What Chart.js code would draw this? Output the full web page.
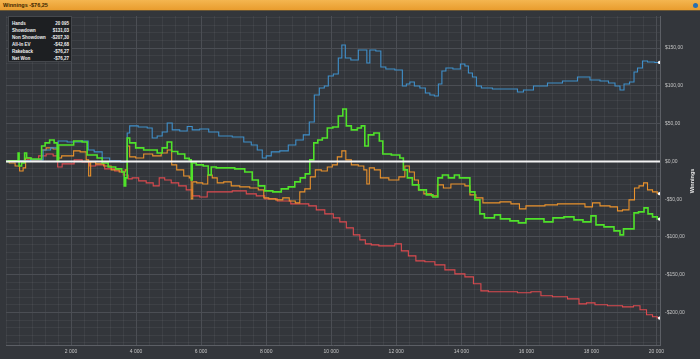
<!DOCTYPE html>
<html>
<head>
<meta charset="utf-8">
<script src="https://cdn.jsdelivr.net/npm/chart.js@4.4.1/dist/chart.umd.min.js"></script>
<style>
html,body{margin:0;padding:0;background:#33363b;overflow:hidden;}
#wrap{position:relative;width:700px;height:359px;background:#33363b;}
#cv{position:absolute;left:0;top:0;}
#titlebar{position:absolute;left:0;top:0;width:700px;height:11px;background:linear-gradient(#f4b650,#e99d2e);border-bottom:1px solid #6a5532;font:bold 5.5px "Liberation Sans",Arial,sans-serif;color:#3a2600;line-height:11px;padding-left:3px;box-sizing:border-box;}
#icon{position:absolute;right:2px;top:3px;width:5px;height:5px;border-radius:50%;background:#2a6fb0;}
#info{position:absolute;left:8px;top:16px;width:64px;height:46px;background:#1d1f22;border:1px solid #45484d;box-sizing:border-box;font:bold 4.5px "Liberation Sans",Arial,sans-serif;color:#f0f0f0;padding:3px 2px 0 3px;white-space:nowrap;}
#info .r{display:flex;justify-content:space-between;height:7px;line-height:7px;}
#ytitle{position:absolute;left:672px;top:177px;width:40px;text-align:center;transform:rotate(-90deg);transform-origin:20px 4px;font:bold 5.5px "Liberation Sans",Arial,sans-serif;color:#e8e8e8;line-height:8px;}
</style>
</head>
<body>
<div id="wrap">
<canvas id="cv" width="700" height="359"></canvas>
<div id="titlebar">Winnings -$76,25<div id="icon"></div></div>
<div id="info">
<div class="r"><span>Hands</span><span>20 095</span></div>
<div class="r"><span>Showdown</span><span>$131,03</span></div>
<div class="r"><span>Non Showdown</span><span>-$207,30</span></div>
<div class="r"><span>All-In EV</span><span>-$42,68</span></div>
<div class="r"><span>Rakeback</span><span>-$76,27</span></div>
<div class="r"><span>Net Won</span><span>-$76,27</span></div>
</div>
<div id="ytitle">Winnings</div>
</div>
<script>
// ---- data (hands, dollars) ----
const xTickValues = [2000,4000,6000,8000,10000,12000,14000,16000,18000,20000];
const yTickValues = [-200,-150,-100,-50,0,50,100,150];

const redHands = [0,418,880,1126,1342,1557,1619,1834,2018,2172,2511,2634,2880,3188,3496,3711,3803,3957,4203,4419,4634,4788,4972,5188,5434,5649,5803,6110,6265,6726,7188,7588,7803,8111,8572,8942,9188,9434,9649,9957,10172,10357,10572,10788,10972,11126,11342,11588,11865,12049,12265,12480,12726,13034,13342,13649,13957,14265,14480,14726,14942,15496,15957,16326,16572,17034,17496,17742,17957,18265,18726,19188,19403,19588,19803,19957,20095];
const redValues = [0,0.7,2.0,7.3,9.9,7.3,-7.3,-3.3,-3.3,2.0,-0.7,-6.0,-4.6,-9.9,-12.6,-17.9,-23.1,-21.8,-25.8,-28.4,-32.4,-21.8,-24.5,-28.4,-32.4,-37.7,-45.6,-47.0,-40.3,-40.3,-39.0,-43.0,-45.6,-49.6,-52.3,-56.2,-56.2,-58.9,-64.2,-69.4,-74.7,-80.0,-88.0,-97.2,-103.8,-109.1,-110.5,-111.8,-111.8,-109.1,-118.4,-125.0,-131.6,-132.9,-136.9,-143.5,-148.8,-152.8,-162.0,-171.3,-172.6,-172.6,-173.9,-172.6,-177.9,-179.2,-181.9,-188.5,-187.2,-189.8,-191.1,-192.5,-191.1,-196.4,-203.0,-205.7,-207.3];

const blueHands = [0,418,1095,1188,1557,1649,2111,2511,2542,2880,3034,3342,3711,3742,3865,4265,4419,4572,4726,4880,5034,5188,5495,5649,5803,6110,6357,6726,7188,7434,7649,7803,7957,8049,8265,8572,8788,9034,9249,9403,9557,9711,9865,9957,10172,10265,10388,10480,10726,10942,11065,11126,11249,11495,11557,11803,12110,12265,12357,12480,12634,12818,12972,13096,13249,13342,13465,13588,13896,14049,14172,14265,14419,14511,14726,15188,15649,15803,16019,16419,16880,17342,17803,18111,18419,18634,18818,18942,19065,19280,19342,19495,19649,19803,20095];
const blueValues = [0,0.7,2.0,15.2,17.9,27.1,25.8,27.1,15.2,12.6,4.6,0.7,-0.7,37.7,47.0,45.6,44.3,31.1,33.7,39.0,50.9,41.7,40.3,46.3,41.7,43.0,39.0,33.7,32.4,25.8,21.8,15.2,4.6,7.3,12.6,13.9,21.8,28.4,35.1,52.2,88.0,97.2,99.9,113.1,115.7,136.9,154.1,136.9,134.3,147.5,147.5,130.3,147.5,146.1,125.0,122.4,121.0,99.9,102.5,105.2,99.9,97.2,90.6,88.0,86.6,102.5,119.7,123.7,122.4,129.0,126.3,117.1,111.8,99.9,97.2,95.9,95.9,91.9,94.6,99.9,103.8,106.5,111.8,107.8,106.5,103.8,99.9,94.6,102.5,105.2,118.4,123.7,132.9,131.6,131.0];

const orangeHands = [0,203,357,480,572,634,880,1065,1126,1342,1557,1619,1803,2018,2141,2418,2511,2572,2634,2880,3126,3342,3619,3711,3742,3865,4111,4357,4665,4880,5034,5157,5342,5588,5680,5711,5772,5957,6142,6265,6418,6572,6818,7034,7342,7649,7865,7988,8172,8419,8603,8818,8972,9096,9280,9434,9588,9803,9957,10111,10265,10388,10511,10726,10942,11065,11126,11218,11434,11588,11957,12203,12326,12480,12634,12726,12972,13188,13342,13557,13803,14019,14203,14326,14572,14757,15034,15342,15711,15865,16111,16419,16726,17188,17649,17957,18111,18419,18726,18880,19034,19280,19372,19557,19649,19803,19957,20095];
const orangeValues = [0,-2.0,-6.0,-12.6,-8.6,4.6,2.0,2.0,15.2,17.9,16.5,4.6,7.3,7.3,13.9,12.6,2.0,-19.2,-0.7,-3.3,-6.0,-11.2,-13.9,-11.2,20.5,6.0,4.6,9.9,7.3,11.2,15.2,-4.6,-11.2,-19.2,-21.8,-49.6,-27.1,-28.4,-29.8,-17.9,-21.8,-28.4,-27.1,-32.4,-33.7,-35.1,-37.7,-48.3,-49.6,-50.9,-48.3,-52.3,-54.9,-40.3,-36.4,-20.5,-11.2,-12.6,-7.3,-4.6,6.0,13.9,2.0,-4.6,-6.0,-11.2,-29.8,-8.6,-11.2,-21.8,-24.5,-20.5,-6.0,-13.9,-24.5,-37.7,-43.0,-45.6,-31.1,-35.1,-29.8,-29.8,-32.4,-44.3,-48.3,-54.9,-54.9,-53.6,-56.2,-62.8,-58.9,-58.9,-57.5,-56.2,-56.2,-60.2,-54.9,-58.9,-60.2,-65.5,-64.2,-50.9,-35.1,-32.4,-28.4,-37.7,-40.3,-42.7];

const greenHands = [0,172,357,388,418,541,603,665,880,1065,1126,1280,1403,1557,1588,1649,1957,2203,2480,2511,2726,2880,3034,3249,3496,3619,3649,3711,3742,3865,4111,4357,4572,4726,4880,5034,5157,5403,5588,5680,5711,5742,5957,6172,6265,6357,6572,6880,7188,7495,7649,7865,8049,8357,8572,8788,8972,9126,9280,9403,9526,9649,9803,9957,10142,10295,10419,10511,10726,10880,10972,11095,11188,11434,11526,11649,12049,12172,12265,12419,12572,12818,13034,13219,13342,13496,13711,13865,14019,14203,14326,14511,14634,14788,14973,15065,15342,15649,15865,16111,16419,16665,16972,17342,17588,17896,18080,18203,18572,18818,18942,19034,19280,19342,19557,19680,19803,19957,20095];
const greenValues = [0,0.7,0.7,11.2,-6.0,-2.0,11.2,4.6,3.3,3.3,20.5,24.5,28.4,24.5,2.0,21.8,21.8,27.1,25.8,8.6,8.6,4.6,-2.0,-7.3,-9.9,-13.9,-32.4,-21.8,31.1,24.5,17.9,15.2,15.2,11.2,17.9,25.8,13.2,9.9,4.0,2.0,-24.5,-2.0,-4.6,-6.0,-17.9,-7.3,-8.6,-8.6,-9.9,-13.9,-24.5,-32.4,-39.0,-40.3,-36.4,-33.7,-27.1,-21.8,-16.5,2.0,24.5,28.4,31.1,44.3,45.6,60.2,69.4,47.0,41.7,44.3,47.0,20.5,35.1,37.7,27.1,9.9,8.6,4.6,-11.2,-21.8,-31.1,-37.7,-44.3,-47.0,-21.8,-17.9,-21.8,-17.9,-21.8,-21.8,-40.3,-50.9,-69.4,-74.7,-74.7,-70.8,-76.1,-78.7,-81.4,-76.1,-76.1,-80.0,-74.7,-73.4,-77.4,-80.0,-72.1,-84.0,-86.6,-91.9,-97.2,-89.3,-89.3,-68.1,-66.8,-61.5,-69.4,-73.4,-76.3];

function pts(h, v){ return h.map((x,i)=>({x:x,y:v[i]})); }

function fmtHands(v){ return String(v).replace(/\B(?=(\d{3})+(?!\d))/g,' '); }
function fmtMoney(v){ const s = Math.abs(v).toFixed(2).replace('.',','); return (v<0?'-$':'$')+s; }

function mkSet(label, h, v, color, width, order){
  const n = h.length;
  return {
    label, data: pts(h,v), borderColor: color, borderWidth: width, order,
    stepped: 'middle',
    pointRadius: ctx => ctx.dataIndex === n-1 ? 1.6 : 0,
    pointBackgroundColor: '#ffffff', pointBorderColor: '#ffffff', pointBorderWidth: 0,
    tension: 0, fill: false
  };
}

const zeroLine = {
  id: 'zeroLine',
  afterDatasetsDraw(chart){
    const y = chart.scales.y.getPixelForValue(0);
    const a = chart.chartArea, c = chart.ctx;
    c.save(); c.strokeStyle = '#f4f4f4'; c.lineWidth = 2;
    c.beginPath(); c.moveTo(a.left, y); c.lineTo(a.right, y); c.stroke(); c.restore();
  }
};

const minorX = []; for (let i=0;i<=20110;i+=400) minorX.push(i);
const minorY = []; for (let i=-240;i<=190;i+=10) minorY.push(i);

new Chart(document.getElementById('cv'), {
  type: 'line',
  data: { datasets: [
    mkSet('Net Won', greenHands, greenValues, '#4fe22a', 1.6, 0),
    mkSet('Showdown', blueHands, blueValues, '#3f8fca', 1.1, 1),
    mkSet('All-In EV', orangeHands, orangeValues, '#ea922c', 1.1, 2),
    mkSet('Non Showdown', redHands, redValues, '#dc4a4f', 1.1, 3)
  ]},
  plugins: [zeroLine],
  options: {
    responsive: false, animation: false, devicePixelRatio: 1,
    layout: { padding: { left: 6, top: 16, right: 0, bottom: 0 } },
    plugins: { legend: { display: false }, tooltip: { enabled: false }, title: { display: false } },
    scales: {
      xm: {
        type: 'linear', position: 'bottom', min: 0, max: 20110,
        afterBuildTicks: s => { s.ticks = minorX.map(v=>({value:v})); },
        afterFit: s => { s.height = 0; },
        ticks: { display: false },
        grid: { color: 'rgba(255,255,255,0.05)', drawTicks: false },
        border: { display: false }
      },
      ym: {
        type: 'linear', position: 'right', min: -243, max: 192.5,
        afterBuildTicks: s => { s.ticks = minorY.map(v=>({value:v})); },
        afterFit: s => { s.width = 0; },
        ticks: { display: false },
        grid: { color: 'rgba(255,255,255,0.05)', drawTicks: false },
        border: { display: false }
      },
      x: {
        type: 'linear', position: 'bottom', min: 0, max: 20110,
        afterBuildTicks: s => { s.ticks = xTickValues.map(v=>({value:v})); },
        afterFit: s => { s.height = 14; },
        ticks: { color: '#c4c4c4', font: { size: 5, family: 'Liberation Sans' }, padding: 4, maxRotation: 0, autoSkip: false, callback: v => fmtHands(v) },
        grid: { color: '#4b4e54', lineWidth: 1, drawTicks: false },
        border: { display: true, color: '#5c5f65' }
      },
      y: {
        type: 'linear', position: 'right', min: -243, max: 192.5,
        afterBuildTicks: s => { s.ticks = yTickValues.map(v=>({value:v})); },
        afterFit: s => { s.width = 40; },
        ticks: { color: '#c4c4c4', font: { size: 5, family: 'Liberation Sans' }, padding: 5, callback: v => fmtMoney(v) },
        grid: { color: '#4b4e54', lineWidth: 1, drawTicks: false },
        border: { display: true, color: '#5c5f65' }
      }
    }
  }
});
</script>
</body>
</html>
